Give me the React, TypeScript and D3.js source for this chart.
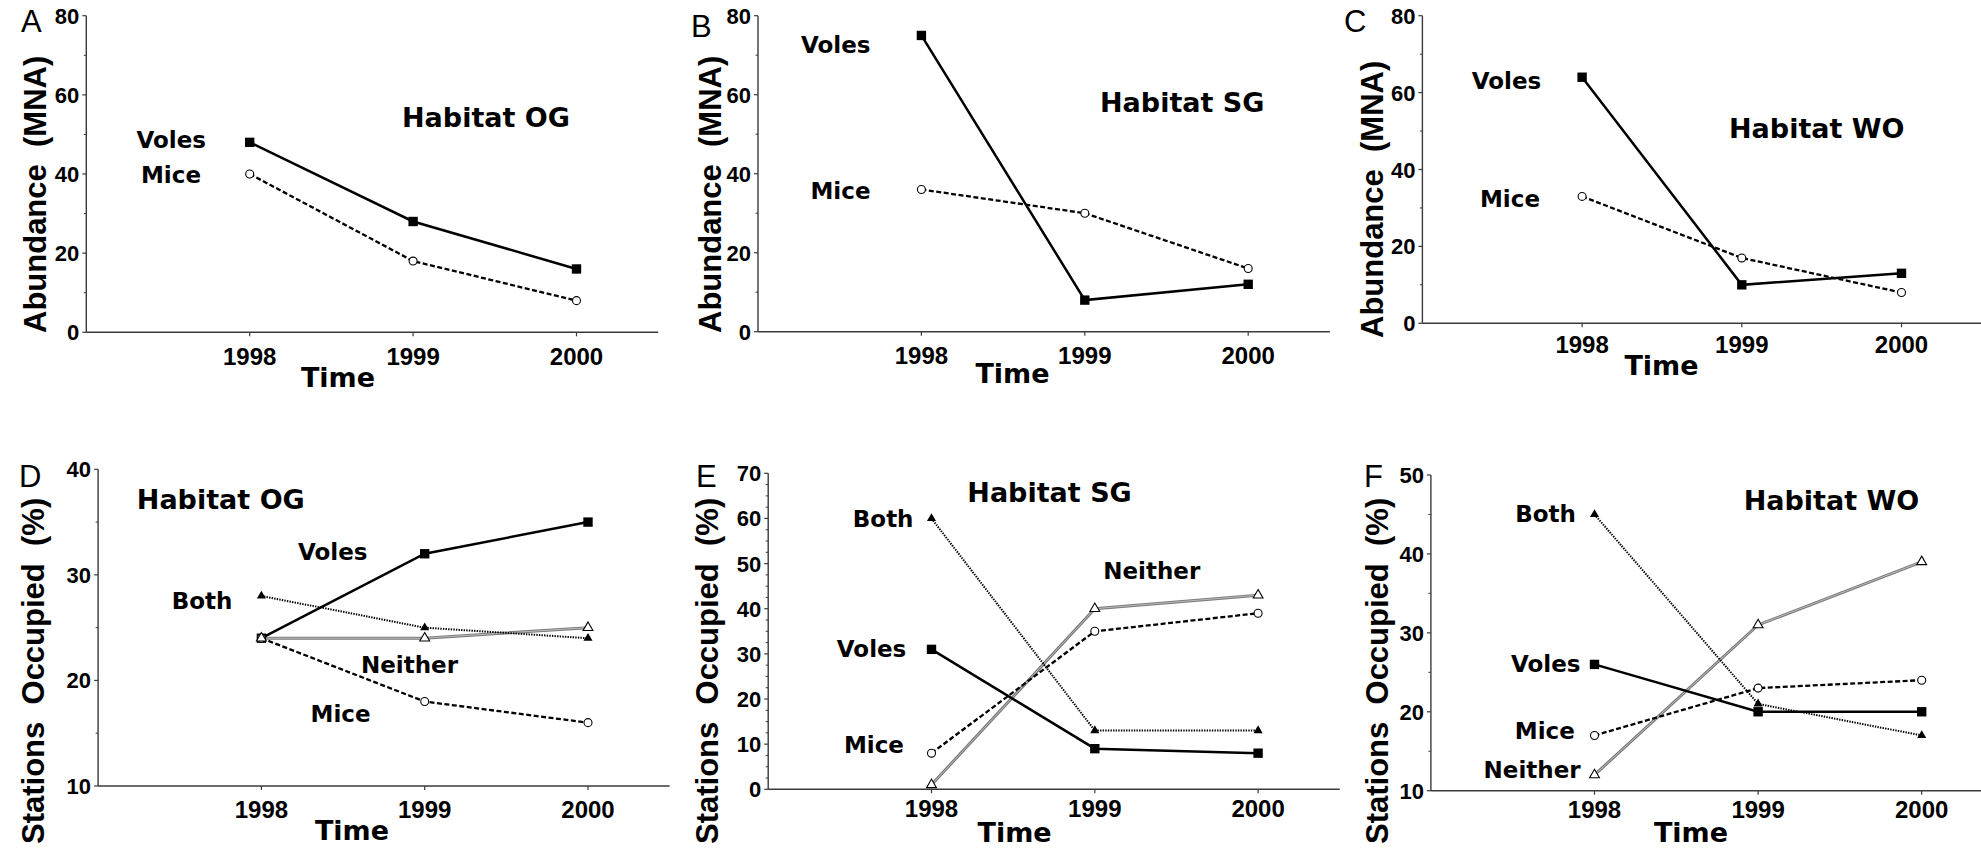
import React from 'react';
import * as d3 from 'd3';

// ---------------- data ----------------
const years = [1998, 1999, 2000];
const yearLabels = ['1998', '1999', '2000'];

// Abundance (MNA)
const volesA = [48, 28, 16];
const miceA = [40, 18, 8];
const volesB = [75, 8, 12];
const miceB = [36, 30, 16];
const volesC = [64, 10, 13];
const miceC = [33, 17, 8];

// Stations occupied (%)
const volesD = [24, 32, 35];
const miceD = [24, 18, 16];
const bothD = [28, 25, 24];
const neitherD = [24, 24, 25];

const volesE = [31, 9, 8];
const miceE = [8, 35, 39];
const bothE = [60, 13, 13];
const neitherE = [1, 40, 43];

const volesF = [26, 20, 20];
const miceF = [17, 23, 24];
const bothF = [45, 21, 17];
const neitherF = [12, 31, 39];

const abundanceTicks = [0, 20, 40, 60, 80];
const abundanceMinor = [10, 30, 50, 70];
const ticksD = [10, 20, 30, 40];
const minorD = [15, 25, 35];
const ticksE = [0, 10, 20, 30, 40, 50, 60, 70];
const minorE = [2.5, 5, 7.5, 12.5, 15, 17.5, 22.5, 25, 27.5, 32.5, 35, 37.5, 42.5, 45, 47.5, 52.5, 55, 57.5, 62.5, 65, 67.5];
const ticksF = [10, 20, 30, 40, 50];
const minorF = [15, 25, 35, 45];

const seriesNames = { voles: 'Voles', mice: 'Mice', both: 'Both', neither: 'Neither' };
const titleAbundance = 'Abundance  (MNA)';
const titleStations = 'Stations  Occupied  (%)';

// ---------------- styles ----------------
const FONT_LABEL = '"DejaVu Sans", Verdana, sans-serif';
const FONT_AXIS = '"Liberation Sans", Arial, Helvetica, sans-serif';
const AXIS_COLOR = '#3a3a3a';

type Key = 'voles' | 'mice' | 'both' | 'neither';

interface Spec {
  letter: string;
  habitat: string;
  yTitle: string;
  yDomain: [number, number];
  yTicks: number[];
  yMinor: number[];
  series: { key: Key; values: number[] }[];
  x0: number; unit: number; top: number; bottom: number;
  labels: Record<string, [number, number, 'start' | 'end']>;
  habitatPos: [number, number];
  letterPos: [number, number];
  yearBase: number;
  timePos: [number, number];
  titlePos: [number, number];
}

const specs: Spec[] = [
  {
    letter: 'A', habitat: 'Habitat OG', yTitle: titleAbundance,
    yDomain: [0, 80], yTicks: abundanceTicks, yMinor: abundanceMinor,
    series: [{ key: 'mice', values: miceA }, { key: 'voles', values: volesA }],
    x0: 86.3, unit: 163.4, top: 15.7, bottom: 332.3,
    labels: { voles: [206, 148.3, 'end'], mice: [201, 182.7, 'end'] },
    habitatPos: [402, 127], letterPos: [21, 32], yearBase: 365, timePos: [338, 386.7],
    titlePos: [46, 333],
  },
  {
    letter: 'B', habitat: 'Habitat SG', yTitle: titleAbundance,
    yDomain: [0, 80], yTicks: abundanceTicks, yMinor: abundanceMinor,
    series: [{ key: 'mice', values: miceB }, { key: 'voles', values: volesB }],
    x0: 758, unit: 163.4, top: 15.7, bottom: 331.7,
    labels: { voles: [870.5, 53.3, 'end'], mice: [870.5, 199.3, 'end'] },
    habitatPos: [1100, 111.7], letterPos: [691, 36.7], yearBase: 363.5, timePos: [1012.5, 383.3],
    titlePos: [721, 333],
  },
  {
    letter: 'C', habitat: 'Habitat WO', yTitle: titleAbundance,
    yDomain: [0, 80], yTicks: abundanceTicks, yMinor: abundanceMinor,
    series: [{ key: 'mice', values: miceC }, { key: 'voles', values: volesC }],
    x0: 1422.4, unit: 159.7, top: 15.7, bottom: 323.3,
    labels: { voles: [1541.3, 89.3, 'end'], mice: [1540, 207.3, 'end'] },
    habitatPos: [1729, 138.3], letterPos: [1344, 32], yearBase: 353.3, timePos: [1661.5, 375],
    titlePos: [1383, 338],
  },
  {
    letter: 'D', habitat: 'Habitat OG', yTitle: titleStations,
    yDomain: [10, 40], yTicks: ticksD, yMinor: minorD,
    series: [{ key: 'neither', values: neitherD }, { key: 'both', values: bothD }, { key: 'mice', values: miceD }, { key: 'voles', values: volesD }],
    x0: 98.1, unit: 163.3, top: 469.3, bottom: 786,
    labels: { voles: [298, 560, 'start'], both: [171.7, 609, 'start'], neither: [361, 673.3, 'start'], mice: [310.6, 721.7, 'start'] },
    habitatPos: [136.8, 509.3], letterPos: [19, 486.7], yearBase: 818, timePos: [352, 840],
    titlePos: [44, 844],
  },
  {
    letter: 'E', habitat: 'Habitat SG', yTitle: titleStations,
    yDomain: [0, 70], yTicks: ticksE, yMinor: minorE,
    series: [{ key: 'neither', values: neitherE }, { key: 'both', values: bothE }, { key: 'mice', values: miceE }, { key: 'voles', values: volesE }],
    x0: 768.2, unit: 163.3, top: 473.3, bottom: 789.3,
    labels: { both: [852.8, 526.7, 'start'], neither: [1103.2, 579.3, 'start'], voles: [836.8, 656.7, 'start'], mice: [843.9, 752.7, 'start'] },
    habitatPos: [967.3, 501.7], letterPos: [696, 486.7], yearBase: 816.7, timePos: [1014.6, 841.7],
    titlePos: [718, 844],
  },
  {
    letter: 'F', habitat: 'Habitat WO', yTitle: titleStations,
    yDomain: [10, 50], yTicks: ticksF, yMinor: minorF,
    series: [{ key: 'neither', values: neitherF }, { key: 'both', values: bothF }, { key: 'mice', values: miceF }, { key: 'voles', values: volesF }],
    x0: 1430.9, unit: 163.6, top: 475, bottom: 790.7,
    labels: { both: [1515.2, 522.3, 'start'], voles: [1511, 672.3, 'start'], mice: [1514.8, 739.3, 'start'], neither: [1483.6, 777.7, 'start'] },
    habitatPos: [1743.7, 510], letterPos: [1364, 486.7], yearBase: 818, timePos: [1691, 841.7],
    titlePos: [1388, 844],
  },
];

const squarePath = d3.symbol().type(d3.symbolSquare).size(88)() as string;
const circlePath = d3.symbol().type(d3.symbolCircle).size(50)() as string;
const triFilledPath = d3.symbol().type(d3.symbolTriangle).size(36)() as string;
const triOpenPath = d3.symbol().type(d3.symbolTriangle).size(42)() as string;

function Marker({ k, cx, cy }: { k: Key; cx: number; cy: number }) {
  const t = `translate(${cx},${cy})`;
  if (k === 'voles') return <path d={squarePath} transform={t} fill="#000" />;
  if (k === 'mice') return <path d={circlePath} transform={t} fill="#fff" stroke="#000" strokeWidth={1.1} />;
  if (k === 'both') return <path d={triFilledPath} transform={t} fill="#000" />;
  return <path d={triOpenPath} transform={t} fill="#fff" stroke="#000" strokeWidth={1.1} />;
}

function SeriesLine({ k, d }: { k: Key; d: string }) {
  if (k === 'voles') return <path d={d} fill="none" stroke="#000" strokeWidth={2.5} />;
  if (k === 'mice') return <path d={d} fill="none" stroke="#000" strokeWidth={2.3} strokeDasharray="5,2.5" />;
  if (k === 'both') return <path d={d} fill="none" stroke="#000" strokeWidth={2} strokeDasharray="1.4,1.2" />;
  return (
    <g>
      <path d={d} fill="none" stroke="#7a7a7a" strokeWidth={3} />
      <path d={d} fill="none" stroke="#fff" strokeWidth={0.9} strokeOpacity={0.55} />
    </g>
  );
}

function Panel({ p }: { p: Spec }) {
  const right = p.x0 + 3.5 * p.unit;
  const x = d3.scaleLinear().domain([1997, 2000.5]).range([p.x0, right]);
  const y = d3.scaleLinear().domain(p.yDomain).range([p.bottom, p.top]);
  const line = d3.line<number>().x((_, i) => x(years[i])).y((v) => y(v));
  return (
    <g>
      {/* axes */}
      <line x1={p.x0} x2={p.x0} y1={p.bottom} y2={p.top} stroke={AXIS_COLOR} strokeWidth={1.4} />
      <line x1={p.x0} x2={right} y1={p.bottom} y2={p.bottom} stroke={AXIS_COLOR} strokeWidth={1.4} />
      {p.yTicks.map((t) => (
        <g key={'yt' + t}>
          <line x1={p.x0 - 4} x2={p.x0} y1={y(t)} y2={y(t)} stroke={AXIS_COLOR} strokeWidth={1.2} />
          <text x={p.x0 - 7} y={y(t) + 8} textAnchor="end" fontFamily={FONT_AXIS} fontSize={22} fontWeight="bold">{t}</text>
        </g>
      ))}
      {p.yMinor.map((t) => (
        <line key={'ym' + t} x1={p.x0 - 2.5} x2={p.x0} y1={y(t)} y2={y(t)} stroke={AXIS_COLOR} strokeWidth={1} />
      ))}
      {years.map((yr, i) => (
        <g key={'xt' + yr}>
          <line x1={x(yr)} x2={x(yr)} y1={p.bottom} y2={p.bottom + 4} stroke={AXIS_COLOR} strokeWidth={1.2} />
          <text x={x(yr)} y={p.yearBase} textAnchor="middle" fontFamily={FONT_AXIS} fontSize={24} fontWeight="bold">{yearLabels[i]}</text>
        </g>
      ))}
      {/* lines */}
      {p.series.map((s) => (
        <SeriesLine key={'l' + s.key} k={s.key} d={line(s.values) as string} />
      ))}
      {/* markers */}
      {['voles', 'mice', 'both', 'neither'].map((k) => {
        const s = p.series.find((q) => q.key === k);
        if (!s) return null;
        return s.values.map((v, i) => <Marker key={k + i} k={s.key} cx={x(years[i])} cy={y(v)} />);
      })}
      {/* series labels */}
      {p.series.map((s) => {
        const pos = p.labels[s.key];
        return (
          <text key={'lab' + s.key} x={pos[0]} y={pos[1]} textAnchor={pos[2]} fontFamily={FONT_LABEL} fontWeight="bold" fontSize={23}>
            {seriesNames[s.key]}
          </text>
        );
      })}
      <text x={p.habitatPos[0]} y={p.habitatPos[1]} fontFamily={FONT_LABEL} fontWeight="bold" fontSize={27}>{p.habitat}</text>
      <text x={p.letterPos[0]} y={p.letterPos[1]} fontFamily={FONT_AXIS} fontSize={31}>{p.letter}</text>
      <text x={p.timePos[0]} y={p.timePos[1]} textAnchor="middle" fontFamily={FONT_LABEL} fontWeight="bold" fontSize={27}>Time</text>
      <text
        transform={`translate(${p.titlePos[0]},${p.titlePos[1]}) rotate(-90)`}
        textAnchor="start"
        fontFamily={FONT_AXIS}
        fontWeight="bold"
        fontSize={31}
        style={{ whiteSpace: 'pre' }}
      >
        {p.yTitle}
      </text>
    </g>
  );
}

export default function App() {
  return (
    <svg width={1981} height={849} viewBox="0 0 1981 849" style={{ position: 'absolute', left: 0, top: 0, background: '#fff' }}>
      <rect x={0} y={0} width={1981} height={849} fill="#fff" />
      {specs.map((p) => (
        <Panel key={p.letter} p={p} />
      ))}
    </svg>
  );
}
